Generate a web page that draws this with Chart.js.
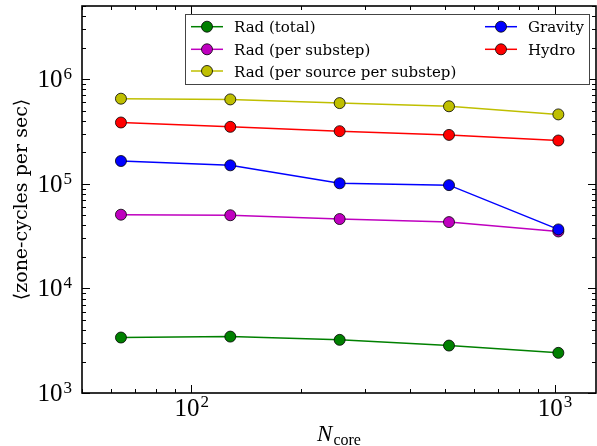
<!DOCTYPE html>
<html>
<head>
<meta charset="utf-8">
<script src="https://cdn.jsdelivr.net/npm/chart.js@4"></script>
<style>
html,body{margin:0;padding:0;background:#fff;}
canvas{display:block;}
</style>
</head>
<body>
<canvas id="c" width="597" height="446"></canvas>
<script>
// ---- data ----
const cores = [64, 128, 256, 512, 1024];
const radTotal = [3390, 3460, 3220, 2840, 2420];
const radPerSubstep = [50600, 50000, 46000, 43000, 35000];
const radPerSourcePerSubstep = [650000, 640000, 590000, 550000, 460000];
const gravity = [165000, 150000, 101000, 97000, 36600];
const hydro = [385000, 350000, 318000, 293000, 259000];
const seriesLabels = ['Rad (total)', 'Rad (per substep)', 'Rad (per source per substep)', 'Gravity', 'Hydro'];
const seriesColors = ['#008000', '#bf00bf', '#bfbf00', '#0000ff', '#ff0000'];
const xMajorTicks = [100, 1000];
const yMajorTicks = [1e3, 1e4, 1e5, 1e6];

const seriesValues = [radTotal, radPerSubstep, radPerSourcePerSubstep, gravity, hydro];

const datasets = seriesValues.map((vals, i) => ({
  label: seriesLabels[i],
  data: cores.map((c, j) => ({x: c, y: vals[j]})),
  borderColor: seriesColors[i],
  backgroundColor: seriesColors[i],
  pointBackgroundColor: seriesColors[i],
  pointBorderColor: '#000',
  pointBorderWidth: 0.8,
  pointRadius: 5.5,
  borderWidth: 1.5,
  tension: 0,
  order: 5 - i
}));

function minorTicks(min, max) {
  const out = [];
  for (let e = Math.floor(Math.log10(min)); e <= Math.ceil(Math.log10(max)); e++) {
    for (let m = 2; m <= 9; m++) {
      const v = m * Math.pow(10, e);
      if (v >= min && v <= max) out.push(v);
    }
  }
  return out;
}

const decor = {
  id: 'decor',
  afterDraw(chart) {
    const ctx = chart.ctx;
    const a = chart.chartArea;
    const xs = chart.scales.x, ys = chart.scales.y;
    ctx.save();
    // ticks (inward, all sides)
    ctx.strokeStyle = '#000';
    ctx.lineWidth = 1;
    const drawX = (v, len) => {
      const px = Math.round(xs.getPixelForValue(v)) + 0.5;
      ctx.beginPath();
      ctx.moveTo(px, a.bottom); ctx.lineTo(px, a.bottom - len);
      ctx.moveTo(px, a.top); ctx.lineTo(px, a.top + len);
      ctx.stroke();
    };
    const drawY = (v, len) => {
      const py = Math.round(ys.getPixelForValue(v)) + 0.5;
      ctx.beginPath();
      ctx.moveTo(a.left, py); ctx.lineTo(a.left + len, py);
      ctx.moveTo(a.right, py); ctx.lineTo(a.right - len, py);
      ctx.stroke();
    };
    minorTicks(xs.min, xs.max).forEach(v => drawX(v, 4));
    xMajorTicks.forEach(v => drawX(v, 8));
    minorTicks(ys.min, ys.max).forEach(v => drawY(v, 4));
    yMajorTicks.forEach(v => drawY(v, 8));
    // frame
    ctx.lineWidth = 1.6;
    ctx.strokeRect(a.left, a.top, a.right - a.left, a.bottom - a.top);

    // tick labels with superscript
    ctx.fillStyle = '#000';
    const baseFont = '25px "Liberation Serif"';
    const expFont = '17px "Liberation Serif"';
    xMajorTicks.forEach(v => {
      const px = xs.getPixelForValue(v);
      const e = String(Math.round(Math.log10(v)));
      ctx.font = baseFont; const w1 = ctx.measureText('10').width;
      ctx.font = expFont; const w2 = ctx.measureText(e).width;
      const x0 = px - (w1 + w2) / 2;
      ctx.textAlign = 'left'; ctx.textBaseline = 'alphabetic';
      ctx.font = baseFont; ctx.fillText('10', x0, a.bottom + 23);
      ctx.font = expFont; ctx.fillText(e, x0 + w1 + 1, a.bottom + 14);
    });
    yMajorTicks.forEach(v => {
      const py = ys.getPixelForValue(v);
      const e = String(Math.round(Math.log10(v)));
      ctx.font = baseFont; const w1 = ctx.measureText('10').width;
      ctx.font = expFont; const w2 = ctx.measureText(e).width;
      const xr = a.left - 10;
      ctx.textAlign = 'left'; ctx.textBaseline = 'alphabetic';
      ctx.font = baseFont; ctx.fillText('10', xr - w2 - 1 - w1, py + 8);
      ctx.font = expFont; ctx.fillText(e, xr - w2, py);
    });

    // x label N_core
    ctx.font = 'italic 23px "Liberation Serif"';
    const wN = ctx.measureText('N').width;
    ctx.font = '16px "Liberation Serif"';
    const wc = ctx.measureText('core').width;
    const cx = (a.left + a.right) / 2;
    const lx = cx - (wN + wc + 1) / 2;
    ctx.font = 'italic 23px "Liberation Serif"';
    ctx.fillText('N', lx, 441);
    ctx.font = '16px "Liberation Serif"';
    ctx.fillText('core', lx + wN + 1, 445);

    // y label
    ctx.save();
    ctx.translate(27, (a.top + a.bottom) / 2);
    ctx.rotate(-Math.PI / 2);
    ctx.textAlign = 'center';
    ctx.font = '19px "DejaVu Serif"';
    ctx.fillText('\u27E8zone-cycles per sec\u27E9', 0, 0);
    ctx.restore();

    // legend
    const lb = {x: 185, y: 14, w: 404, h: 70};
    ctx.fillStyle = '#fff';
    ctx.fillRect(lb.x, lb.y, lb.w, lb.h);
    ctx.strokeStyle = '#444';
    ctx.lineWidth = 1;
    ctx.strokeRect(lb.x + 0.5, lb.y + 0.5, lb.w, lb.h);
    const rows = [26.7, 49.3, 71];
    const cols = [{h0: 191, mk: 207, tx: 234}, {h0: 485, mk: 501, tx: 528}];
    chart.data.datasets.forEach((ds, i) => {
      const col = i < 3 ? cols[0] : cols[1];
      const ry = rows[i < 3 ? i : i - 3];
      ctx.strokeStyle = ds.borderColor;
      ctx.lineWidth = 1.5;
      ctx.beginPath();
      ctx.moveTo(col.h0, ry); ctx.lineTo(col.h0 + 32, ry);
      ctx.stroke();
      ctx.beginPath();
      ctx.arc(col.mk, ry, 5.5, 0, Math.PI * 2);
      ctx.fillStyle = ds.pointBackgroundColor;
      ctx.fill();
      ctx.strokeStyle = '#000';
      ctx.lineWidth = 0.8;
      ctx.stroke();
      ctx.fillStyle = '#000';
      ctx.font = '15px "DejaVu Serif"';
      ctx.textAlign = 'left';
      ctx.textBaseline = 'alphabetic';
      ctx.fillText(ds.label, col.tx, ry + 5.5);
    });
    ctx.restore();
  }
};

new Chart(document.getElementById('c'), {
  type: 'line',
  data: {datasets},
  options: {
    responsive: false,
    animation: false,
    layout: {autoPadding: false, padding: {top: 6, right: 1, left: 0, bottom: 0}},
    plugins: {legend: {display: false}, tooltip: {enabled: false}},
    scales: {
      x: {
        type: 'logarithmic', min: 50, max: 1300,
        ticks: {display: false}, grid: {display: false}, border: {display: false},
        afterFit: s => { s.height = 53; }
      },
      y: {
        type: 'logarithmic', min: 1000, max: 5e6,
        ticks: {display: false}, grid: {display: false}, border: {display: false},
        afterFit: s => { s.width = 82; }
      }
    }
  },
  plugins: [decor]
});
</script>
</body>
</html>
